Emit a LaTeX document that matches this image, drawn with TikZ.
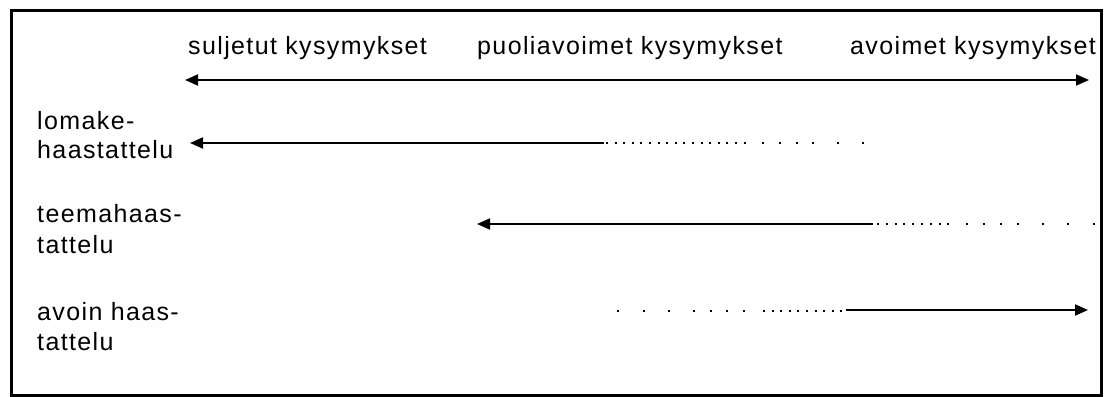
\documentclass[tikz,border=0pt]{standalone}
\usepackage{fontspec}
\setmainfont{Liberation Sans}[LetterSpace=5.5]
\usetikzlibrary{arrows.meta}
\begin{document}
\begin{tikzpicture}[x=1pt,y=-1pt,
  txt/.style={inner sep=0pt,anchor=base west,font=\fontsize{25}{29}\selectfont},
  tip/.style={-{Triangle[length=13pt,width=11pt]}},
  solidline/.style={line width=1.9pt,line cap=butt},
  dotline/.style={line width=1.9pt,line cap=butt}
]
\useasboundingbox (0,0) rectangle (1105,396);
\draw[line width=3pt] (11.5,10.5) rectangle (1101.5,395.8);

% header
\node[txt] (h1) at (188,55) {suljetut kysymykset};
\node[txt] (h2) at (477,55) {puoliavoimet kysymykset};
\node[txt,anchor=base east] (h3) at (1096,55) {avoimet kysymykset};
\coordinate (tl) at (185,80);
\coordinate (tr) at (1089,80);
\draw[solidline,{Triangle[length=13pt,width=11pt]}-{Triangle[length=13pt,width=11pt]}] (tl) -- (tr);

% labels
\node[txt] (a1) at (37,129) {lomake-};
\node[txt] (a2) at (37,158) {haastattelu};
\node[txt] (b1) at (37,222) {teemahaas-};
\node[txt] (b2) at (37,253) {tattelu};
\node[txt] (c1) at (37,320) {avoin haas-};
\node[txt] (c2) at (37,350) {tattelu};

% row 1
\coordinate (r1tip) at (190,143);
\coordinate (r1s) at (604,143);
\coordinate (r1d) at (606,143);
\coordinate (r1e) at (746,143);
\coordinate (r1f) at (762,143);
\coordinate (r1g) at (865,143);
\draw[solidline,tip] (r1s) -- (r1tip);
\draw[dotline,dash pattern=on 2pt off 6.6pt] (r1d) -- (r1e);
\draw[dotline,dash pattern=on 2pt off 15pt on 2pt off 15pt on 2pt off 14pt on 2pt off 23pt on 2pt off 23pt on 2pt off 30pt] (r1f) -- (r1g);

% row 2
\coordinate (r2tip) at (477,224);
\coordinate (r2s) at (873,224);
\coordinate (r2d) at (877,224);
\coordinate (r2e) at (949,224);
\coordinate (r2f) at (966,224);
\coordinate (r2g) at (1095,224);
\draw[solidline,tip] (r2s) -- (r2tip);
\draw[dotline,dash pattern=on 2pt off 6.8pt] (r2d) -- (r2e);
\draw[dotline,dash pattern=on 2pt off 14.5pt on 2pt off 15pt on 2pt off 15pt on 2pt off 23pt on 2pt off 23pt on 2pt off 24pt] (r2f) -- (r2g);

% row 3
\coordinate (r3a) at (617,311);
\coordinate (r3b) at (746,311);
\coordinate (r3c) at (763,311);
\coordinate (r3d) at (845,311);
\coordinate (r3s) at (846,310);
\coordinate (r3tip) at (1088,310);
\draw[dotline,dash pattern=on 2pt off 23.5pt on 2pt off 23pt on 2pt off 23pt on 2pt off 15pt on 2pt off 14.5pt on 2pt off 15pt on 2pt off 30pt] (r3a) -- (r3b);
\draw[dotline,dash pattern=on 2pt off 6.6pt] (r3c) -- (r3d);
\draw[solidline,tip] (r3s) -- (r3tip);
\end{tikzpicture}
\end{document}
